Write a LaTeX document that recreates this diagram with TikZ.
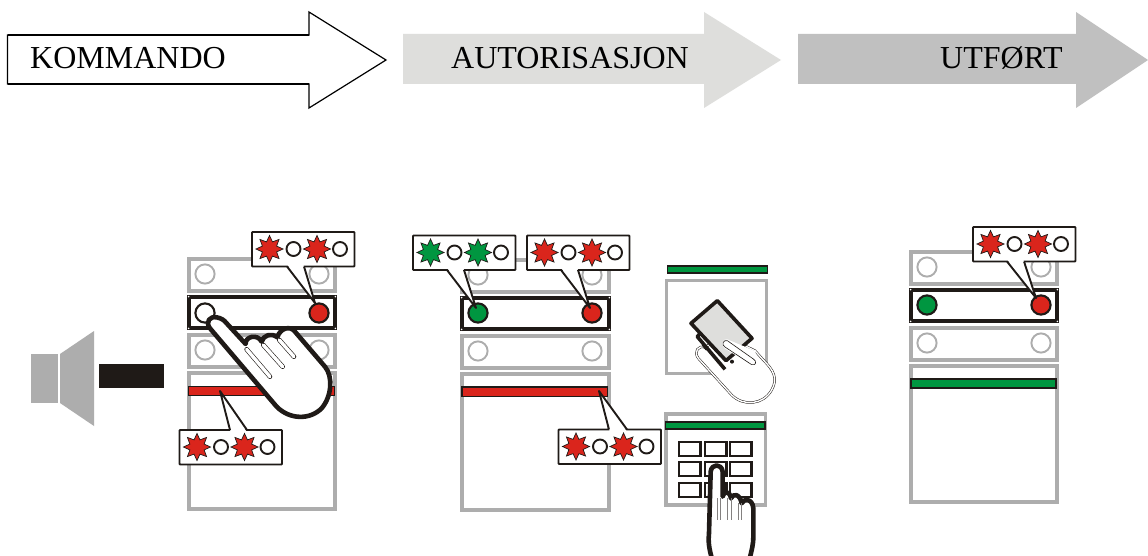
\documentclass[tikz,border=0pt]{standalone}
\usepackage{fontspec}
\setmainfont{Liberation Serif}
\usetikzlibrary{shapes.geometric}
\definecolor{lred}{HTML}{DA251C}
\definecolor{lgreen}{HTML}{009640}
\definecolor{pgray}{HTML}{ADADAD}
\definecolor{ink}{HTML}{1F1A17}
\definecolor{arrowlight}{HTML}{DEDEDC}
\definecolor{arrowmid}{HTML}{C0C0C0}
\newcount\lampno
\tikzset{
  steptext/.style={anchor=base west,inner sep=0pt,font=\fontsize{32}{34}\selectfont,text=black},
  grayrect/.style={draw=pgray,line width=4pt,fill=white},
  blackrect/.style={draw=ink,line width=4pt,fill=white},
  graylamp/.style={draw=pgray,line width=1.9pt,fill=white},
  inklamp/.style={draw=ink,line width=2.1pt},
  barstyle/.style={draw=ink,line width=1.7pt},
  balloon/.style={draw=ink,line width=1.9pt,fill=white,rounded corners=.8pt},
  lampstar/.style={star,star points=8,star point ratio=1.75,minimum size=27pt,inner sep=0pt,draw=ink,line width=.7pt},
  smallring/.style={draw=ink,line width=1.9pt,fill=white},
  handline/.style={draw=ink,line width=4.6pt,fill=white,line join=round},
  thinhand/.style={draw=ink,line width=.5pt,double=white,double distance=1.4pt,fill=white},
  keybox/.style={draw=ink,line width=2.8pt,fill=white},
}
\newcommand{\panelset}[3]{%
  \draw[grayrect] (#1+2,#2+2) rectangle (#1+#3-2,#2+34);
  \draw[grayrect] (#1+2,#2+78) rectangle (#1+#3-2,#2+109.8);
  \draw[grayrect] (#1+2,#2+116) rectangle (#1+#3-2,#2+252);
  \draw[blackrect] (#1+2,#2+40) rectangle (#1+#3-2,#2+71.2);
  \foreach \cx in {#1+1.6,#1+#3-1.6} \foreach \cy in {#2+39.6,#2+71.4}
    \fill[white] (\cx,\cy) circle (.9);
  \draw[graylamp] (#1+18,#2+17) circle (9.6);
  \draw[graylamp] (#1+132,#2+17) circle (9.6);
  \draw[graylamp] (#1+18,#2+93) circle (9.6);
  \draw[graylamp] (#1+132,#2+93) circle (9.6);
}
\newcommand{\lampstarat}[3]{%
  \global\advance\lampno by 1
  \node[lampstar,fill=#3,name=lamp\the\lampno] at (#1,#2) {};}
\newcommand{\balloonbody}[3]{%
  \draw[balloon] (#1,#2) rectangle (#1+102.5,#2+34.5);
  \lampstarat{#1+17.5}{#2+17}{#3}
  \draw[smallring] (#1+41.5,#2+17) circle (7);
  \lampstarat{#1+65}{#2+17}{#3}
  \draw[smallring] (#1+88,#2+17) circle (7);
}
\newcommand{\tail}[6]{% base1x, basey, tipx, tipy, base2x, sign
  \fill[white] (#1+.5,#2+#6*1.4) -- (#3,#4) -- (#5-.5,#2+#6*1.4) -- cycle;
  \draw[ink,line width=1.9pt,line join=round] (#1,#2) -- (#3,#4) -- (#5,#2);
}
\begin{document}
\begin{tikzpicture}[x=1pt,y=-1pt]
\useasboundingbox (0,0) rectangle (1148,556);
\clip (0,0) rectangle (1148,556);
\fill[white] (0,0) rectangle (1148,556);

% step arrows
\draw[black,line width=1.2pt,fill=white,miter limit=10] (7.5,35) -- (309,35) -- (309,12) -- (386,60) -- (309,108) -- (309,84) -- (7.5,84) -- cycle;
\draw[black,line width=1.8pt] (7.5,35) -- (309,35) (7.5,84) -- (309,84);
\fill[arrowlight] (403,34) -- (704,34) -- (704,12) -- (781,60) -- (704,108) -- (704,84) -- (403,84) -- cycle;
\fill[arrowmid] (798,34) -- (1076,34) -- (1076,12) -- (1148,60) -- (1076,108) -- (1076,84) -- (798,84) -- cycle;
\node[steptext] (kommando) at (30,68.5) {KOMMANDO};
\node[steptext] (autorisasjon) at (451,68.5) {AUTORISASJON};
\node[steptext] (utfort) at (940,68.5) {UTFØRT};

% speaker
\fill[pgray] (31,354) rectangle (58,403);
\fill[pgray] (60,354) -- (94,331) -- (94,426) -- (60,403) -- cycle;
\fill[ink] (99,364) rectangle (164,388);

% ---- panel 1
\panelset{187}{257}{150}
\draw[inklamp,fill=white] (205,313) circle (9.6);
\draw[inklamp,fill=lred] (319,313) circle (9.6);
\draw[barstyle,fill=lred] (188.5,386.5) rectangle (334.5,395.5);
\balloonbody{252}{232}{lred}
\tail{287}{266.5}{315}{303}{304}{-1}
\balloonbody{179.5}{430}{lred}
\tail{230}{430}{220}{391}{247}{1}
% hand on panel 1
\begin{scope}[shift={(0pt,-220pt)},x=.3333pt,y=-.3333pt]
\draw[handline] (630,325) .. controls (615,305) and (630,288) .. (650,292)
  .. controls (665,295) and (672,300) .. (680,310) -- (737,372)
  .. controls (735,350) and (772,340) .. (785,365)
  .. controls (790,345) and (815,338) .. (832,352)
  .. controls (840,325) and (870,315) .. (885,335) -- (975,440)
  .. controls (1000,470) and (995,530) .. (965,565)
  .. controls (930,600) and (870,600) .. (830,560) -- cycle;
\foreach \xa/\ya/\xb/\yb in {740/388/810/470,790/375/848/440,838/360/882/410}{
  \draw[ink,line width=4.6pt,line cap=round] (\xa,\ya) -- (\xb,\yb);
  \draw[white,line width=3.4pt,line cap=round] (\xa,\ya) -- (\xb,\yb);
}
\end{scope}

% ---- panel 2
\panelset{460}{258}{151}
\draw[inklamp,fill=lgreen] (478,313) circle (9.6);
\draw[inklamp,fill=lred] (592,313) circle (9.6);
\draw[barstyle,fill=lred] (462,387) rectangle (607.5,396.5);
\balloonbody{413}{235.5}{lgreen}
\tail{447}{270}{476}{308}{464}{-1}
\balloonbody{527}{235.5}{lred}
\tail{561}{270}{590}{308}{578}{-1}
\balloonbody{558.5}{429.5}{lred}
\tail{609}{429.5}{599}{391}{627}{1}

% card reader
\draw[barstyle,fill=lgreen] (667.5,266) rectangle (767.5,273);
\draw[draw=pgray,line width=3.8pt,fill=white] (666.5,280.5) rectangle (766.5,373.5);
\begin{scope}[shift={(640pt,-250pt)},x=.3333pt,y=-.3333pt]
\draw[thinhand] (195,292) .. controls (175,285) and (160,305) .. (175,325) -- (275,435)
  .. controls (310,470) and (370,465) .. (395,420)
  .. controls (415,385) and (400,360) .. (370,330) -- (345,302) -- (300,280) -- (230,270) -- cycle;
\draw[ink,line width=3.6pt,fill=arrowlight,line join=round] (232,152) -- (336,265) -- (258,332) -- (153,220) -- cycle;
\draw[ink,line width=3.6pt,line join=round] (180,250) -- (172,260) -- (255,358);
\draw[ink,line width=3.2pt,line cap=round] (200,297) -- (190,285);
\fill[ink] (276,335) circle (6);
\fill[white] (262,268) -- (345,303) .. controls (352,320) and (352,340) .. (335,345) -- (255,296) .. controls (240,285) and (248,265) .. (262,268) -- cycle;
\draw[ink,line width=.6pt] (262,272) .. controls (250,268) and (243,285) .. (255,291) -- (335,344) .. controls (350,348) and (350,332) .. (340,327) -- cycle;
\end{scope}

% keypad
\draw[draw=pgray,line width=3.8pt,fill=white] (665.8,413.8) rectangle (765.4,505.2);
\draw[barstyle,fill=lgreen] (665.5,422) rectangle (765,429);
\foreach \kx in {679,705,730}\foreach \ky in {442,462,483}
  \draw[keybox] (\kx,\ky) rectangle (\kx+21.5,\ky+14);
\begin{scope}[shift={(640pt,-250pt)},x=.3333pt,y=-.3333pt]
\draw[handline] (217,930) .. controls (205,890) and (205,870) .. (207,850) -- (212,665)
  .. controls (215,640) and (245,640) .. (248,665) -- (248,740)
  .. controls (250,722) and (270,722) .. (273,745)
  .. controls (278,730) and (300,730) .. (305,760)
  .. controls (310,745) and (338,745) .. (340,775) -- (340,860)
  .. controls (340,885) and (335,900) .. (328,930);
\foreach \fx/\fy in {237/745,268/745,300/760}{
  \draw[ink!55,line width=.5pt] (\fx-5,\fy) -- (\fx-5,810) (\fx+5,\fy) -- (\fx+5,810);
}
\end{scope}

% ---- panel 3
\panelset{909}{250}{150}
\draw[inklamp,fill=lgreen] (927,305) circle (9.6);
\draw[inklamp,fill=lred] (1041,305) circle (9.6);
\draw[barstyle,fill=lgreen] (911,379) rectangle (1056,388);
\balloonbody{973}{227}{lred}
\tail{1007}{261.5}{1036}{298}{1024}{-1}
\end{tikzpicture}
\end{document}
